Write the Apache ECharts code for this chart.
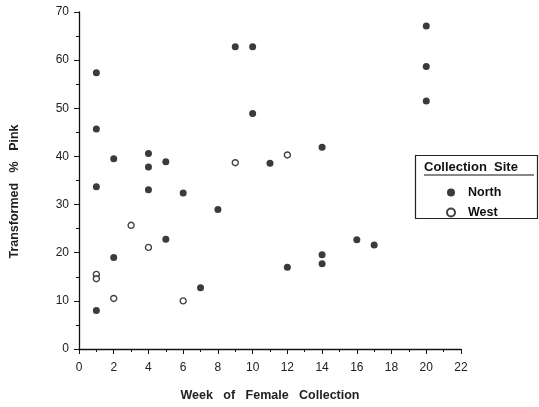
<!DOCTYPE html>
<html>
<head>
<meta charset="utf-8">
<title>Collection Site</title>
<script src="https://cdn.jsdelivr.net/npm/echarts@6/dist/echarts.min.js"></script>
</head>
<body style="margin:0;background:#fff">
<div id="main" style="width:539px;height:407px;"></div>
<script type="text/javascript">
// week of collection, transformed % pink
var northWeeks = [1, 1, 1, 1, 2, 2, 4, 4, 4, 5, 5, 6, 7, 8, 9, 10, 10, 11, 12, 14, 14, 14, 16, 17, 20, 20, 20];
var northPink = [57.4, 45.7, 33.7, 8.0, 39.5, 19.0, 40.6, 37.8, 33.1, 38.9, 22.8, 32.4, 12.7, 29.0, 62.8, 62.8, 48.9, 38.6, 17.0, 41.9, 19.6, 17.7, 22.7, 21.6, 67.1, 58.7, 51.5];
var westWeeks = [1, 1, 2, 3, 4, 6, 9, 12];
var westPink = [15.5, 14.6, 10.5, 25.7, 21.1, 10.0, 38.7, 40.3];
var xTicks = [0, 2, 4, 6, 8, 10, 12, 14, 16, 18, 20, 22];
var yTicks = [0, 10, 20, 30, 40, 50, 60, 70];

var pairs = function (xs, ys) {
  var res = [];
  for (var i = 0; i < xs.length; i++) res.push([xs[i], ys[i]]);
  return res;
};

var myChart = echarts.init(document.getElementById('main'));
var font = 'Liberation Sans, Arial, sans-serif';

var option = {
  backgroundColor: '#fff',
  animation: false,
  grid: { left: 77, right: 78, top: 12, bottom: 53 },
  xAxis: {
    type: 'value',
    min: xTicks[0], max: xTicks[xTicks.length - 1], interval: 2,
    name: 'Week   of   Female   Collection',
    nameLocation: 'middle', nameGap: 40,
    nameTextStyle: { fontFamily: font, fontSize: 12.5, fontWeight: 'bold', color: '#222' },
    axisLine: { lineStyle: { color: '#111', width: 1.3 } },
    axisTick: { length: 5, lineStyle: { color: '#111' } },
    minorTick: { show: true, splitNumber: 2, length: 3, lineStyle: { color: '#111' } },
    axisLabel: { fontFamily: font, fontSize: 12, color: '#222', margin: 13 },
    splitLine: { show: false }
  },
  yAxis: {
    type: 'value',
    min: yTicks[0], max: yTicks[yTicks.length - 1], interval: 10,
    name: 'Transformed   %   Pink',
    nameLocation: 'middle', nameGap: 58,
    nameTextStyle: { fontFamily: font, fontSize: 12.5, fontWeight: 'bold', color: '#222', padding: [0, 22, 0, 0] },
    axisLine: { show: true, lineStyle: { color: '#111', width: 1.3 } },
    axisTick: { show: true, length: 5, lineStyle: { color: '#111' } },
    minorTick: { show: true, splitNumber: 2, length: 3, lineStyle: { color: '#111' } },
    axisLabel: { fontFamily: font, fontSize: 12, color: '#222', margin: 10 },
    splitLine: { show: false }
  },
  legend: {
    orient: 'vertical',
    left: 441, top: 181,
    itemGap: 7, itemWidth: 8, itemHeight: 8,
    textStyle: { fontFamily: font, fontSize: 12.5, fontWeight: 'bold', color: '#111', padding: [0, 0, 0, 8] },
    data: ['North', 'West']
  },
  graphic: [
    { type: 'rect', shape: { x: 415.5, y: 155.5, width: 122, height: 63 },
      style: { fill: '#fff', stroke: '#222', lineWidth: 1.2 }, z: 0 },
    { type: 'text', left: 424, top: 161,
      style: { text: 'Collection  Site', font: 'bold 13px ' + font, fill: '#111' }, z: 1 },
    { type: 'line', shape: { x1: 424, y1: 175, x2: 534, y2: 175 },
      style: { stroke: '#111', lineWidth: 1 }, z: 1 }
  ],
  series: [
    {
      name: 'North', type: 'scatter', symbol: 'circle', symbolSize: 7,
      itemStyle: { color: '#0a0a0a' },
      data: pairs(northWeeks, northPink)
    },
    {
      name: 'West', type: 'scatter', symbol: 'circle', symbolSize: 6,
      itemStyle: { color: '#fff', borderColor: '#111', borderWidth: 1.4 },
      data: pairs(westWeeks, westPink)
    }
  ]
};
myChart.setOption(option);
</script>
</body>
</html>
